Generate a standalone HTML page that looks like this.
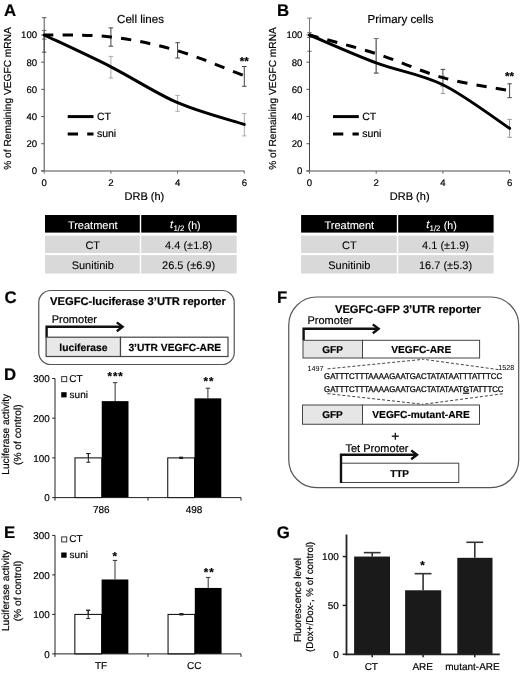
<!DOCTYPE html>
<html><head><meta charset="utf-8"><style>
html,body{margin:0;padding:0;background:#fff;}
svg{display:block;filter:grayscale(1) blur(0.3px);}
text{font-family:"Liberation Sans", sans-serif;text-rendering:geometricPrecision;stroke:#000;stroke-width:0.18px;}
text[fill="#fff"]{stroke:#fff;stroke-width:0.1px;}
text[fill="#111"]{stroke:#111;}
</style></head><body>
<svg width="520" height="674" viewBox="0 0 520 674">
<rect x="0" y="0" width="520" height="674" fill="#fff"/>
<text x="4.10" y="16.00" font-size="16.8" text-anchor="start" font-weight="bold" fill="#000" >A</text>
<text x="140.50" y="22.70" font-size="11.55" text-anchor="middle" font-weight="normal" fill="#000" >Cell lines</text>
<line x1="44.20" y1="17.70" x2="44.20" y2="52.20" stroke="#555" stroke-width="1" />
<line x1="41.95" y1="17.70" x2="46.45" y2="17.70" stroke="#555" stroke-width="1" />
<line x1="41.95" y1="52.20" x2="46.45" y2="52.20" stroke="#555" stroke-width="1" />
<line x1="110.90" y1="27.90" x2="110.90" y2="46.20" stroke="#444" stroke-width="1" />
<line x1="108.65" y1="27.90" x2="113.15" y2="27.90" stroke="#444" stroke-width="1" />
<line x1="108.65" y1="46.20" x2="113.15" y2="46.20" stroke="#444" stroke-width="1" />
<line x1="177.60" y1="42.70" x2="177.60" y2="58.00" stroke="#444" stroke-width="1" />
<line x1="175.35" y1="42.70" x2="179.85" y2="42.70" stroke="#444" stroke-width="1" />
<line x1="175.35" y1="58.00" x2="179.85" y2="58.00" stroke="#444" stroke-width="1" />
<line x1="244.30" y1="66.50" x2="244.30" y2="86.30" stroke="#444" stroke-width="1" />
<line x1="242.05" y1="66.50" x2="246.55" y2="66.50" stroke="#444" stroke-width="1" />
<line x1="242.05" y1="86.30" x2="246.55" y2="86.30" stroke="#444" stroke-width="1" />
<line x1="44.20" y1="30.40" x2="44.20" y2="39.10" stroke="#666" stroke-width="1" />
<line x1="41.95" y1="30.40" x2="46.45" y2="30.40" stroke="#666" stroke-width="1" />
<line x1="41.95" y1="39.10" x2="46.45" y2="39.10" stroke="#666" stroke-width="1" />
<line x1="110.90" y1="56.40" x2="110.90" y2="78.00" stroke="#aaa" stroke-width="1" />
<line x1="108.65" y1="56.40" x2="113.15" y2="56.40" stroke="#aaa" stroke-width="1" />
<line x1="108.65" y1="78.00" x2="113.15" y2="78.00" stroke="#aaa" stroke-width="1" />
<line x1="177.60" y1="95.40" x2="177.60" y2="111.30" stroke="#aaa" stroke-width="1" />
<line x1="175.35" y1="95.40" x2="179.85" y2="95.40" stroke="#aaa" stroke-width="1" />
<line x1="175.35" y1="111.30" x2="179.85" y2="111.30" stroke="#aaa" stroke-width="1" />
<line x1="244.30" y1="113.60" x2="244.30" y2="135.90" stroke="#aaa" stroke-width="1" />
<line x1="242.05" y1="113.60" x2="246.55" y2="113.60" stroke="#aaa" stroke-width="1" />
<line x1="242.05" y1="135.90" x2="246.55" y2="135.90" stroke="#aaa" stroke-width="1" />
<line x1="44.20" y1="35.00" x2="44.20" y2="170.90" stroke="#444" stroke-width="1" />
<line x1="41.20" y1="170.90" x2="244.30" y2="170.90" stroke="#888" stroke-width="1.5" />
<line x1="41.20" y1="170.90" x2="44.20" y2="170.90" stroke="#555" stroke-width="1" />
<text x="37.10" y="174.30" font-size="9.6" text-anchor="end" font-weight="normal" fill="#000" >0</text>
<line x1="41.20" y1="143.72" x2="44.20" y2="143.72" stroke="#555" stroke-width="1" />
<text x="37.10" y="147.12" font-size="9.6" text-anchor="end" font-weight="normal" fill="#000" >20</text>
<line x1="41.20" y1="116.54" x2="44.20" y2="116.54" stroke="#555" stroke-width="1" />
<text x="37.10" y="119.94" font-size="9.6" text-anchor="end" font-weight="normal" fill="#000" >40</text>
<line x1="41.20" y1="89.36" x2="44.20" y2="89.36" stroke="#555" stroke-width="1" />
<text x="37.10" y="92.76" font-size="9.6" text-anchor="end" font-weight="normal" fill="#000" >60</text>
<line x1="41.20" y1="62.18" x2="44.20" y2="62.18" stroke="#555" stroke-width="1" />
<text x="37.10" y="65.58" font-size="9.6" text-anchor="end" font-weight="normal" fill="#000" >80</text>
<line x1="41.20" y1="35.00" x2="44.20" y2="35.00" stroke="#555" stroke-width="1" />
<text x="37.10" y="38.40" font-size="9.6" text-anchor="end" font-weight="normal" fill="#000" >100</text>
<line x1="44.20" y1="170.90" x2="44.20" y2="173.70" stroke="#666" stroke-width="1" />
<text x="44.20" y="186.40" font-size="9.6" text-anchor="middle" font-weight="normal" fill="#000" >0</text>
<line x1="110.90" y1="170.90" x2="110.90" y2="173.70" stroke="#666" stroke-width="1" />
<text x="110.90" y="186.40" font-size="9.6" text-anchor="middle" font-weight="normal" fill="#000" >2</text>
<line x1="177.60" y1="170.90" x2="177.60" y2="173.70" stroke="#666" stroke-width="1" />
<text x="177.60" y="186.40" font-size="9.6" text-anchor="middle" font-weight="normal" fill="#000" >4</text>
<line x1="244.30" y1="170.90" x2="244.30" y2="173.70" stroke="#666" stroke-width="1" />
<text x="244.30" y="186.40" font-size="9.6" text-anchor="middle" font-weight="normal" fill="#000" >6</text>
<text x="144.40" y="200.20" font-size="11.0" text-anchor="middle" font-weight="normal" fill="#000" >DRB (h)</text>
<text transform="translate(11.10,98.5) rotate(-90)" font-size="10.2" text-anchor="middle">% of Remaining VEGFC mRNA</text>
<path d="M44.20,35.00 C55.32,35.32 88.67,34.28 110.90,36.90 C133.13,39.53 155.37,44.29 177.60,50.76 C199.83,57.24 233.18,71.60 244.30,75.77" fill="none" stroke="#000" stroke-width="3" stroke-dasharray="10.3,9.2" stroke-dashoffset="1"/>
<path d="M44.20,35.00 C55.32,40.30 88.67,55.52 110.90,66.80 C133.13,78.08 155.37,93.07 177.60,102.68 C199.83,112.28 233.18,120.80 244.30,124.42" fill="none" stroke="#000" stroke-width="3" stroke-linecap="round"/>
<line x1="67.70" y1="116.60" x2="93.50" y2="116.60" stroke="#000" stroke-width="3" />
<text x="96.90" y="120.30" font-size="10.5" text-anchor="start" font-weight="normal" fill="#000" >CT</text>
<path d="M67.70,133.9 H93.50" stroke="#000" stroke-width="3" stroke-dasharray="10.3,9.2"/>
<text x="96.90" y="137.10" font-size="10.5" text-anchor="start" font-weight="normal" fill="#000" >suni</text>
<text x="244.30" y="65.20" font-size="11.5" text-anchor="middle" font-weight="bold" fill="#000" >**</text>
<text x="276.90" y="16.00" font-size="16.8" text-anchor="start" font-weight="bold" fill="#000" >B</text>
<text x="400.50" y="22.70" font-size="11.55" text-anchor="middle" font-weight="normal" fill="#000" >Primary cells</text>
<line x1="309.50" y1="18.10" x2="309.50" y2="51.30" stroke="#777" stroke-width="1" />
<line x1="307.25" y1="18.10" x2="311.75" y2="18.10" stroke="#777" stroke-width="1" />
<line x1="307.25" y1="51.30" x2="311.75" y2="51.30" stroke="#777" stroke-width="1" />
<line x1="376.20" y1="38.50" x2="376.20" y2="73.10" stroke="#555" stroke-width="1" />
<line x1="373.95" y1="38.50" x2="378.45" y2="38.50" stroke="#555" stroke-width="1" />
<line x1="373.95" y1="73.10" x2="378.45" y2="73.10" stroke="#555" stroke-width="1" />
<line x1="442.90" y1="69.40" x2="442.90" y2="86.00" stroke="#444" stroke-width="1" />
<line x1="440.65" y1="69.40" x2="445.15" y2="69.40" stroke="#444" stroke-width="1" />
<line x1="440.65" y1="86.00" x2="445.15" y2="86.00" stroke="#444" stroke-width="1" />
<line x1="509.60" y1="83.80" x2="509.60" y2="97.70" stroke="#444" stroke-width="1" />
<line x1="507.35" y1="83.80" x2="511.85" y2="83.80" stroke="#444" stroke-width="1" />
<line x1="507.35" y1="97.70" x2="511.85" y2="97.70" stroke="#444" stroke-width="1" />
<line x1="309.50" y1="32.70" x2="309.50" y2="37.50" stroke="#666" stroke-width="1" />
<line x1="307.25" y1="32.70" x2="311.75" y2="32.70" stroke="#666" stroke-width="1" />
<line x1="307.25" y1="37.50" x2="311.75" y2="37.50" stroke="#666" stroke-width="1" />
<line x1="376.20" y1="38.50" x2="376.20" y2="73.10" stroke="#777" stroke-width="1" />
<line x1="373.95" y1="38.50" x2="378.45" y2="38.50" stroke="#777" stroke-width="1" />
<line x1="373.95" y1="73.10" x2="378.45" y2="73.10" stroke="#777" stroke-width="1" />
<line x1="442.90" y1="76.10" x2="442.90" y2="93.50" stroke="#999" stroke-width="1" />
<line x1="440.65" y1="76.10" x2="445.15" y2="76.10" stroke="#999" stroke-width="1" />
<line x1="440.65" y1="93.50" x2="445.15" y2="93.50" stroke="#999" stroke-width="1" />
<line x1="509.60" y1="119.40" x2="509.60" y2="137.30" stroke="#999" stroke-width="1" />
<line x1="507.35" y1="119.40" x2="511.85" y2="119.40" stroke="#999" stroke-width="1" />
<line x1="507.35" y1="137.30" x2="511.85" y2="137.30" stroke="#999" stroke-width="1" />
<line x1="309.50" y1="35.00" x2="309.50" y2="170.90" stroke="#444" stroke-width="1" />
<line x1="306.50" y1="170.90" x2="509.60" y2="170.90" stroke="#888" stroke-width="1.5" />
<line x1="306.50" y1="170.90" x2="309.50" y2="170.90" stroke="#555" stroke-width="1" />
<text x="302.40" y="174.30" font-size="9.6" text-anchor="end" font-weight="normal" fill="#000" >0</text>
<line x1="306.50" y1="143.72" x2="309.50" y2="143.72" stroke="#555" stroke-width="1" />
<text x="302.40" y="147.12" font-size="9.6" text-anchor="end" font-weight="normal" fill="#000" >20</text>
<line x1="306.50" y1="116.54" x2="309.50" y2="116.54" stroke="#555" stroke-width="1" />
<text x="302.40" y="119.94" font-size="9.6" text-anchor="end" font-weight="normal" fill="#000" >40</text>
<line x1="306.50" y1="89.36" x2="309.50" y2="89.36" stroke="#555" stroke-width="1" />
<text x="302.40" y="92.76" font-size="9.6" text-anchor="end" font-weight="normal" fill="#000" >60</text>
<line x1="306.50" y1="62.18" x2="309.50" y2="62.18" stroke="#555" stroke-width="1" />
<text x="302.40" y="65.58" font-size="9.6" text-anchor="end" font-weight="normal" fill="#000" >80</text>
<line x1="306.50" y1="35.00" x2="309.50" y2="35.00" stroke="#555" stroke-width="1" />
<text x="302.40" y="38.40" font-size="9.6" text-anchor="end" font-weight="normal" fill="#000" >100</text>
<line x1="309.50" y1="170.90" x2="309.50" y2="173.70" stroke="#666" stroke-width="1" />
<text x="309.50" y="186.40" font-size="9.6" text-anchor="middle" font-weight="normal" fill="#000" >0</text>
<line x1="376.20" y1="170.90" x2="376.20" y2="173.70" stroke="#666" stroke-width="1" />
<text x="376.20" y="186.40" font-size="9.6" text-anchor="middle" font-weight="normal" fill="#000" >2</text>
<line x1="442.90" y1="170.90" x2="442.90" y2="173.70" stroke="#666" stroke-width="1" />
<text x="442.90" y="186.40" font-size="9.6" text-anchor="middle" font-weight="normal" fill="#000" >4</text>
<line x1="509.60" y1="170.90" x2="509.60" y2="173.70" stroke="#666" stroke-width="1" />
<text x="509.60" y="186.40" font-size="9.6" text-anchor="middle" font-weight="normal" fill="#000" >6</text>
<text x="409.70" y="200.20" font-size="11.0" text-anchor="middle" font-weight="normal" fill="#000" >DRB (h)</text>
<text transform="translate(276.40,98.5) rotate(-90)" font-size="10.2" text-anchor="middle">% of Remaining VEGFC mRNA</text>
<path d="M309.50,35.00 C320.62,38.10 353.97,46.51 376.20,53.62 C398.43,60.73 420.67,71.49 442.90,77.67 C465.13,83.86 498.48,88.54 509.60,90.72" fill="none" stroke="#000" stroke-width="3" stroke-dasharray="10.3,9.2" stroke-dashoffset="1"/>
<path d="M309.50,35.00 C320.62,39.64 353.97,54.57 376.20,62.86 C398.43,71.15 420.67,73.82 442.90,84.74 C465.13,95.66 498.48,121.09 509.60,128.36" fill="none" stroke="#000" stroke-width="3" stroke-linecap="round"/>
<line x1="333.00" y1="116.60" x2="358.80" y2="116.60" stroke="#000" stroke-width="3" />
<text x="362.20" y="120.30" font-size="10.5" text-anchor="start" font-weight="normal" fill="#000" >CT</text>
<path d="M333.00,133.9 H358.80" stroke="#000" stroke-width="3" stroke-dasharray="10.3,9.2"/>
<text x="362.20" y="137.10" font-size="10.5" text-anchor="start" font-weight="normal" fill="#000" >suni</text>
<text x="509.60" y="79.80" font-size="11.5" text-anchor="middle" font-weight="bold" fill="#000" >**</text>
<rect x="45.00" y="215.00" width="191.70" height="17.60" fill="#000" stroke="none" stroke-width="1" />
<rect x="45.00" y="235.60" width="191.70" height="17.50" fill="#d9d9d9" stroke="none" stroke-width="1" />
<rect x="45.00" y="255.10" width="191.70" height="18.40" fill="#d9d9d9" stroke="none" stroke-width="1" />
<rect x="139.80" y="215.00" width="1.40" height="58.50" fill="#fff" stroke="none" stroke-width="1" />
<text x="92.75" y="228.80" font-size="11" text-anchor="middle" font-weight="normal" fill="#fff" >Treatment</text>
<text x="170.10" y="228.3" font-size="11" font-style="italic" fill="#fff">t</text>
<text x="173.40" y="231.4" font-size="7.9" fill="#fff">1/2</text>
<text x="187.70" y="228.6" font-size="10.6" fill="#fff">(h)</text>
<text x="92.75" y="249.00" font-size="11" text-anchor="middle" font-weight="normal" fill="#000" style="stroke-width:0.08px">CT</text>
<text x="188.60" y="249.00" font-size="11" text-anchor="middle" font-weight="normal" fill="#000" style="stroke-width:0.08px">4.4 (±1.8)</text>
<text x="92.75" y="269.20" font-size="11" text-anchor="middle" font-weight="normal" fill="#000" style="stroke-width:0.08px">Sunitinib</text>
<text x="188.60" y="269.20" font-size="11" text-anchor="middle" font-weight="normal" fill="#000" style="stroke-width:0.08px">26.5 (±6.9)</text>
<rect x="301.10" y="215.00" width="192.50" height="17.60" fill="#000" stroke="none" stroke-width="1" />
<rect x="301.10" y="235.60" width="192.50" height="17.50" fill="#d9d9d9" stroke="none" stroke-width="1" />
<rect x="301.10" y="255.10" width="192.50" height="18.40" fill="#d9d9d9" stroke="none" stroke-width="1" />
<rect x="396.80" y="215.00" width="1.40" height="58.50" fill="#fff" stroke="none" stroke-width="1" />
<text x="349.30" y="228.80" font-size="11" text-anchor="middle" font-weight="normal" fill="#fff" >Treatment</text>
<text x="426.20" y="228.3" font-size="11" font-style="italic" fill="#fff">t</text>
<text x="429.50" y="231.4" font-size="7.9" fill="#fff">1/2</text>
<text x="443.80" y="228.6" font-size="10.6" fill="#fff">(h)</text>
<text x="349.30" y="249.00" font-size="11" text-anchor="middle" font-weight="normal" fill="#000" style="stroke-width:0.08px">CT</text>
<text x="445.55" y="249.00" font-size="11" text-anchor="middle" font-weight="normal" fill="#000" style="stroke-width:0.08px">4.1 (±1.9)</text>
<text x="349.30" y="269.20" font-size="11" text-anchor="middle" font-weight="normal" fill="#000" style="stroke-width:0.08px">Sunitinib</text>
<text x="445.55" y="269.20" font-size="11" text-anchor="middle" font-weight="normal" fill="#000" style="stroke-width:0.08px">16.7 (±5.3)</text>
<text x="4.50" y="302.60" font-size="16.8" text-anchor="start" font-weight="bold" fill="#000" >C</text>
<rect x="38.75" y="290.50" width="195.50" height="74.00" fill="none" stroke="#555" stroke-width="1.2" rx="12"/>
<text x="50.00" y="305.00" font-size="11.2" text-anchor="start" font-weight="bold" fill="#000" >VEGFC-luciferase 3’UTR reporter</text>
<text x="51.75" y="322.50" font-size="11" text-anchor="start" font-weight="normal" fill="#000" >Promoter</text>
<path d="M46.6,337.5 V326.8 H121" fill="none" stroke="#111" stroke-width="2.4"/>
<path d="M116.8,322.4 L122.6,326.8 L116.8,331.2" fill="none" stroke="#111" stroke-width="2.4"/>
<rect x="46.10" y="337.20" width="74.40" height="19.30" fill="#e8e8e8" stroke="#444" stroke-width="1.2" />
<rect x="120.50" y="337.20" width="107.50" height="19.30" fill="#fff" stroke="#444" stroke-width="1.2" />
<text x="83.40" y="351.25" font-size="10.3" text-anchor="middle" font-weight="bold" fill="#000" >luciferase</text>
<text x="174.80" y="351.10" font-size="10.25" text-anchor="middle" font-weight="bold" fill="#000" >3’UTR VEGFC-ARE</text>
<text x="3.90" y="380.00" font-size="16.8" text-anchor="start" font-weight="bold" fill="#000" >D</text>
<text transform="translate(9,434.30) rotate(-90)" font-size="10.2" text-anchor="middle">Luciferase activity</text>
<text transform="translate(20.9,434.70) rotate(-90)" font-size="10.2" text-anchor="middle">(% of control)</text>
<line x1="88.35" y1="453.53" x2="88.35" y2="462.27" stroke="#222" stroke-width="1" />
<line x1="86.35" y1="453.53" x2="90.35" y2="453.53" stroke="#222" stroke-width="1" />
<line x1="86.35" y1="462.27" x2="90.35" y2="462.27" stroke="#222" stroke-width="1" />
<rect x="75.00" y="457.90" width="26.75" height="39.70" fill="#fff" stroke="#000" stroke-width="1" />
<rect x="101.75" y="401.13" width="26.75" height="96.47" fill="#000" stroke="none" stroke-width="1" />
<line x1="115.15" y1="382.67" x2="115.15" y2="401.13" stroke="#333" stroke-width="1" />
<line x1="112.95" y1="382.67" x2="117.35" y2="382.67" stroke="#333" stroke-width="1" />
<text x="101.25" y="513.00" font-size="10" text-anchor="middle" font-weight="normal" fill="#000" >786</text>
<line x1="181.10" y1="457.30" x2="181.10" y2="458.50" stroke="#222" stroke-width="1" />
<line x1="179.10" y1="457.30" x2="183.10" y2="457.30" stroke="#222" stroke-width="1" />
<line x1="179.10" y1="458.50" x2="183.10" y2="458.50" stroke="#222" stroke-width="1" />
<rect x="167.75" y="457.90" width="26.75" height="39.70" fill="#fff" stroke="#000" stroke-width="1" />
<rect x="194.50" y="398.35" width="26.75" height="99.25" fill="#000" stroke="none" stroke-width="1" />
<line x1="207.90" y1="388.19" x2="207.90" y2="398.35" stroke="#333" stroke-width="1" />
<line x1="205.70" y1="388.19" x2="210.10" y2="388.19" stroke="#333" stroke-width="1" />
<text x="194.00" y="513.00" font-size="10" text-anchor="middle" font-weight="normal" fill="#000" >498</text>
<line x1="88.35" y1="453.53" x2="88.35" y2="462.27" stroke="#222" stroke-width="1" />
<line x1="86.35" y1="453.53" x2="90.35" y2="453.53" stroke="#222" stroke-width="1" />
<line x1="86.35" y1="462.27" x2="90.35" y2="462.27" stroke="#222" stroke-width="1" />
<line x1="181.10" y1="457.30" x2="181.10" y2="458.50" stroke="#222" stroke-width="1" />
<line x1="179.10" y1="457.30" x2="183.10" y2="457.30" stroke="#222" stroke-width="1" />
<line x1="179.10" y1="458.50" x2="183.10" y2="458.50" stroke="#222" stroke-width="1" />
<line x1="55.00" y1="378.50" x2="55.00" y2="497.60" stroke="#222" stroke-width="1" />
<line x1="55.00" y1="497.60" x2="241.00" y2="497.60" stroke="#222" stroke-width="1" />
<line x1="52.20" y1="497.60" x2="55.00" y2="497.60" stroke="#222" stroke-width="1" />
<text x="49.80" y="501.20" font-size="9.9" text-anchor="end" font-weight="normal" fill="#000" >0</text>
<line x1="52.20" y1="457.90" x2="55.00" y2="457.90" stroke="#222" stroke-width="1" />
<text x="49.80" y="461.50" font-size="9.9" text-anchor="end" font-weight="normal" fill="#000" >100</text>
<line x1="52.20" y1="418.20" x2="55.00" y2="418.20" stroke="#222" stroke-width="1" />
<text x="49.80" y="421.80" font-size="9.9" text-anchor="end" font-weight="normal" fill="#000" >200</text>
<line x1="52.20" y1="378.50" x2="55.00" y2="378.50" stroke="#222" stroke-width="1" />
<text x="49.80" y="382.10" font-size="9.9" text-anchor="end" font-weight="normal" fill="#000" >300</text>
<line x1="55.00" y1="497.60" x2="55.00" y2="500.60" stroke="#222" stroke-width="1" />
<line x1="148.00" y1="497.60" x2="148.00" y2="500.60" stroke="#222" stroke-width="1" />
<line x1="241.00" y1="497.60" x2="241.00" y2="500.60" stroke="#222" stroke-width="1" />
<rect x="61.70" y="376.60" width="5.00" height="5.00" fill="#fff" stroke="#333" stroke-width="1" />
<text x="69.30" y="381.90" font-size="10" text-anchor="start" font-weight="normal" fill="#000" >CT</text>
<rect x="61.20" y="392.20" width="5.40" height="5.20" fill="#000" stroke="none" stroke-width="1" />
<text x="69.60" y="397.60" font-size="10" text-anchor="start" font-weight="normal" fill="#000" >suni</text>
<text x="115.60" y="380.00" font-size="11.5" text-anchor="middle" font-weight="bold" fill="#000" letter-spacing="0.9">***</text>
<text x="208.90" y="385.30" font-size="11.5" text-anchor="middle" font-weight="bold" fill="#000" letter-spacing="0.9">**</text>
<text x="3.90" y="538.00" font-size="16.8" text-anchor="start" font-weight="bold" fill="#000" >E</text>
<text transform="translate(9,590.60) rotate(-90)" font-size="10.2" text-anchor="middle">Luciferase activity</text>
<text transform="translate(20.9,591.00) rotate(-90)" font-size="10.2" text-anchor="middle">(% of control)</text>
<line x1="88.20" y1="610.25" x2="88.20" y2="618.55" stroke="#222" stroke-width="1" />
<line x1="86.20" y1="610.25" x2="90.20" y2="610.25" stroke="#222" stroke-width="1" />
<line x1="86.20" y1="618.55" x2="90.20" y2="618.55" stroke="#222" stroke-width="1" />
<rect x="74.85" y="614.40" width="26.75" height="39.50" fill="#fff" stroke="#000" stroke-width="1" />
<rect x="101.60" y="579.48" width="26.75" height="74.42" fill="#000" stroke="none" stroke-width="1" />
<line x1="115.00" y1="560.40" x2="115.00" y2="579.48" stroke="#333" stroke-width="1" />
<line x1="112.80" y1="560.40" x2="117.20" y2="560.40" stroke="#333" stroke-width="1" />
<text x="101.10" y="669.30" font-size="10" text-anchor="middle" font-weight="normal" fill="#000" >TF</text>
<line x1="181.40" y1="613.81" x2="181.40" y2="614.99" stroke="#222" stroke-width="1" />
<line x1="179.40" y1="613.81" x2="183.40" y2="613.81" stroke="#222" stroke-width="1" />
<line x1="179.40" y1="614.99" x2="183.40" y2="614.99" stroke="#222" stroke-width="1" />
<rect x="168.05" y="614.40" width="26.75" height="39.50" fill="#fff" stroke="#000" stroke-width="1" />
<rect x="194.80" y="587.94" width="26.75" height="65.97" fill="#000" stroke="none" stroke-width="1" />
<line x1="208.20" y1="577.43" x2="208.20" y2="587.94" stroke="#333" stroke-width="1" />
<line x1="206.00" y1="577.43" x2="210.40" y2="577.43" stroke="#333" stroke-width="1" />
<text x="194.30" y="669.30" font-size="10" text-anchor="middle" font-weight="normal" fill="#000" >CC</text>
<line x1="88.20" y1="610.25" x2="88.20" y2="618.55" stroke="#222" stroke-width="1" />
<line x1="86.20" y1="610.25" x2="90.20" y2="610.25" stroke="#222" stroke-width="1" />
<line x1="86.20" y1="618.55" x2="90.20" y2="618.55" stroke="#222" stroke-width="1" />
<line x1="181.40" y1="613.81" x2="181.40" y2="614.99" stroke="#222" stroke-width="1" />
<line x1="179.40" y1="613.81" x2="183.40" y2="613.81" stroke="#222" stroke-width="1" />
<line x1="179.40" y1="614.99" x2="183.40" y2="614.99" stroke="#222" stroke-width="1" />
<line x1="55.00" y1="535.40" x2="55.00" y2="653.90" stroke="#222" stroke-width="1" />
<line x1="55.00" y1="653.90" x2="241.00" y2="653.90" stroke="#222" stroke-width="1" />
<line x1="52.20" y1="653.90" x2="55.00" y2="653.90" stroke="#222" stroke-width="1" />
<text x="49.80" y="657.50" font-size="9.9" text-anchor="end" font-weight="normal" fill="#000" >0</text>
<line x1="52.20" y1="614.40" x2="55.00" y2="614.40" stroke="#222" stroke-width="1" />
<text x="49.80" y="618.00" font-size="9.9" text-anchor="end" font-weight="normal" fill="#000" >100</text>
<line x1="52.20" y1="574.90" x2="55.00" y2="574.90" stroke="#222" stroke-width="1" />
<text x="49.80" y="578.50" font-size="9.9" text-anchor="end" font-weight="normal" fill="#000" >200</text>
<line x1="52.20" y1="535.40" x2="55.00" y2="535.40" stroke="#222" stroke-width="1" />
<text x="49.80" y="539.00" font-size="9.9" text-anchor="end" font-weight="normal" fill="#000" >300</text>
<line x1="55.00" y1="653.90" x2="55.00" y2="656.90" stroke="#222" stroke-width="1" />
<line x1="148.00" y1="653.90" x2="148.00" y2="656.90" stroke="#222" stroke-width="1" />
<line x1="241.00" y1="653.90" x2="241.00" y2="656.90" stroke="#222" stroke-width="1" />
<rect x="61.70" y="536.90" width="5.00" height="5.00" fill="#fff" stroke="#333" stroke-width="1" />
<text x="69.30" y="542.20" font-size="10" text-anchor="start" font-weight="normal" fill="#000" >CT</text>
<rect x="61.20" y="552.50" width="5.40" height="5.20" fill="#000" stroke="none" stroke-width="1" />
<text x="69.60" y="557.90" font-size="10" text-anchor="start" font-weight="normal" fill="#000" >suni</text>
<text x="114.80" y="560.30" font-size="11.5" text-anchor="middle" font-weight="bold" fill="#000" >*</text>
<text x="209.20" y="576.30" font-size="11.5" text-anchor="middle" font-weight="bold" fill="#000" letter-spacing="0.9">**</text>
<text x="277.10" y="302.80" font-size="16.8" text-anchor="start" font-weight="bold" fill="#000" >F</text>
<rect x="288.75" y="297.00" width="229.95" height="190.70" fill="none" stroke="#555" stroke-width="1.2" rx="28"/>
<text x="335.00" y="312.50" font-size="11.15" text-anchor="start" font-weight="bold" fill="#000" >VEGFC-GFP 3’UTR reporter</text>
<text x="307.50" y="323.75" font-size="11" text-anchor="start" font-weight="normal" fill="#000" >Promoter</text>
<path d="M303.6,340 V328.8 H377" fill="none" stroke="#111" stroke-width="2.4"/>
<path d="M372.8,324.4 L378.6,328.8 L372.8,333.2" fill="none" stroke="#111" stroke-width="2.4"/>
<rect x="303.00" y="340.30" width="59.50" height="17.70" fill="#e6e6e6" stroke="#444" stroke-width="1" />
<rect x="362.50" y="340.30" width="117.10" height="17.70" fill="#fff" stroke="#444" stroke-width="1" />
<text x="332.60" y="352.60" font-size="10" text-anchor="middle" font-weight="bold" fill="#000" >GFP</text>
<text x="421.20" y="352.90" font-size="10.2" text-anchor="middle" font-weight="bold" fill="#000" >VEGFC-ARE</text>
<text x="307.50" y="370.50" font-size="7.2" text-anchor="start" font-weight="normal" fill="#000" style="stroke-width:0">1497</text>
<text x="498.30" y="369.60" font-size="7.2" text-anchor="start" font-weight="normal" fill="#000" style="stroke-width:0">1528</text>
<line x1="327.50" y1="368.90" x2="423.50" y2="359.30" stroke="#444" stroke-width="1" stroke-dasharray="3,2"/>
<line x1="498.50" y1="369.60" x2="423.50" y2="359.30" stroke="#444" stroke-width="1" stroke-dasharray="3,2"/>
<text x="324.1" y="378.5" font-size="8.4" textLength="178" lengthAdjust="spacingAndGlyphs" fill="#111" style="stroke-width:0.32px">GATTTCTTTAAAAGAATGACTATATAATTTATTTCC</text>
<text x="324.1" y="391.9" font-size="8.4" textLength="179.3" lengthAdjust="spacingAndGlyphs" fill="#111" style="stroke-width:0.32px">GATTTCTTTAAAAGAATGACTATATAAT<tspan text-decoration="underline" font-weight="bold">G</tspan>TATTTCC</text>
<line x1="327.40" y1="393.60" x2="423.00" y2="404.30" stroke="#444" stroke-width="1" stroke-dasharray="3,2"/>
<line x1="502.70" y1="393.80" x2="423.00" y2="404.30" stroke="#444" stroke-width="1" stroke-dasharray="3,2"/>
<rect x="302.50" y="405.00" width="60.00" height="19.25" fill="#e6e6e6" stroke="#444" stroke-width="1" />
<rect x="362.50" y="405.00" width="117.00" height="19.25" fill="#fff" stroke="#444" stroke-width="1" />
<text x="332.50" y="418.20" font-size="10" text-anchor="middle" font-weight="bold" fill="#000" >GFP</text>
<text x="421.00" y="418.20" font-size="10.2" text-anchor="middle" font-weight="bold" fill="#000" >VEGFC-mutant-ARE</text>
<text x="395.30" y="441.20" font-size="14" text-anchor="middle" font-weight="normal" fill="#000" >+</text>
<text x="345.50" y="451.75" font-size="11" text-anchor="start" font-weight="normal" fill="#000" >Tet Promoter</text>
<rect x="341.25" y="463.20" width="117.50" height="19.30" fill="#fff" stroke="#444" stroke-width="1" />
<path d="M341,483 V454.8 H415.5" fill="none" stroke="#111" stroke-width="2.4"/>
<path d="M411.2,450.4 L417,454.8 L411.2,459.2" fill="none" stroke="#111" stroke-width="2.4"/>
<text x="399.60" y="477.00" font-size="10" text-anchor="middle" font-weight="bold" fill="#000" >TTP</text>
<text x="276.80" y="538.30" font-size="16.8" text-anchor="start" font-weight="bold" fill="#000" >G</text>
<text transform="translate(301.4,600) rotate(-90)" font-size="10.1" text-anchor="middle">Fluorescence level</text>
<text transform="translate(312.8,596.8) rotate(-90)" font-size="9.8" text-anchor="middle">(Dox+/Dox-, % of control)</text>
<line x1="372.20" y1="552.64" x2="372.20" y2="556.55" stroke="#333" stroke-width="1.6" />
<line x1="363.80" y1="552.64" x2="380.60" y2="552.64" stroke="#333" stroke-width="1.6" />
<rect x="354.10" y="556.55" width="35.90" height="97.75" fill="#1a1a1a" stroke="none" stroke-width="1" />
<line x1="372.20" y1="654.30" x2="372.20" y2="657.30" stroke="#222" stroke-width="1.5" />
<text x="371.30" y="669.80" font-size="10" text-anchor="middle" font-weight="normal" fill="#000" >CT</text>
<line x1="423.10" y1="573.66" x2="423.10" y2="590.27" stroke="#333" stroke-width="1.6" />
<line x1="414.70" y1="573.66" x2="431.50" y2="573.66" stroke="#333" stroke-width="1.6" />
<rect x="405.10" y="590.27" width="36.10" height="64.03" fill="#1a1a1a" stroke="none" stroke-width="1" />
<line x1="423.10" y1="654.30" x2="423.10" y2="657.30" stroke="#222" stroke-width="1.5" />
<text x="422.70" y="669.80" font-size="10" text-anchor="middle" font-weight="normal" fill="#000" >ARE</text>
<line x1="474.80" y1="542.28" x2="474.80" y2="557.82" stroke="#333" stroke-width="1.6" />
<line x1="466.40" y1="542.28" x2="483.20" y2="542.28" stroke="#333" stroke-width="1.6" />
<rect x="457.30" y="557.82" width="35.20" height="96.48" fill="#1a1a1a" stroke="none" stroke-width="1" />
<line x1="474.80" y1="654.30" x2="474.80" y2="657.30" stroke="#222" stroke-width="1.5" />
<text x="472.50" y="669.80" font-size="10" text-anchor="middle" font-weight="normal" fill="#000" >mutant-ARE</text>
<line x1="346.50" y1="534.50" x2="346.50" y2="655.20" stroke="#222" stroke-width="1.8" />
<line x1="345.60" y1="654.30" x2="499.80" y2="654.30" stroke="#222" stroke-width="1.8" />
<line x1="342.70" y1="654.30" x2="346.50" y2="654.30" stroke="#222" stroke-width="1.5" />
<text x="338.80" y="658.00" font-size="10" text-anchor="end" font-weight="normal" fill="#000" >0</text>
<line x1="342.70" y1="605.42" x2="346.50" y2="605.42" stroke="#222" stroke-width="1.5" />
<text x="338.80" y="609.12" font-size="10" text-anchor="end" font-weight="normal" fill="#000" >50</text>
<line x1="342.70" y1="556.55" x2="346.50" y2="556.55" stroke="#222" stroke-width="1.5" />
<text x="338.80" y="560.25" font-size="10" text-anchor="end" font-weight="normal" fill="#000" >100</text>
<text x="422.50" y="568.60" font-size="11.5" text-anchor="middle" font-weight="bold" fill="#000" >*</text>
</svg>
</body></html>
